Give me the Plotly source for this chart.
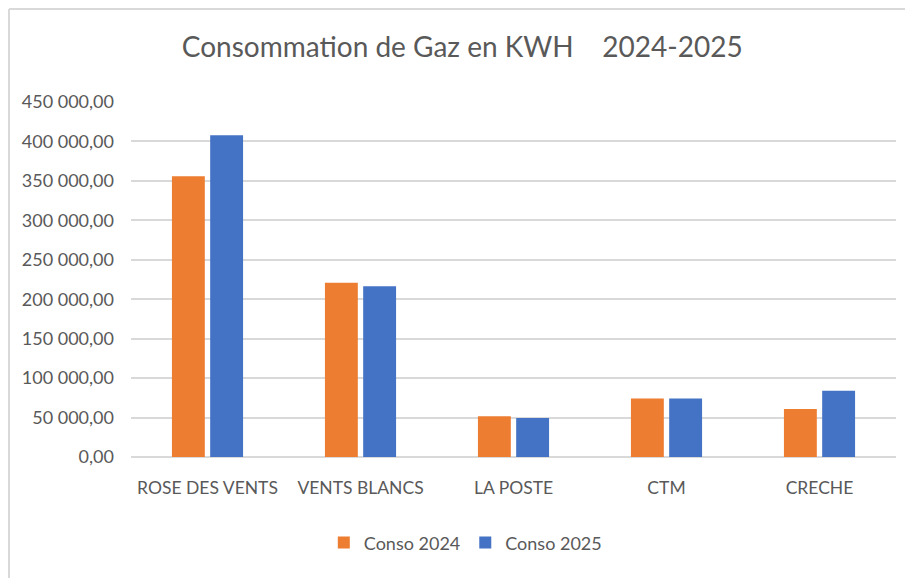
import plotly.graph_objects as go

categories = ["ROSE DES VENTS", "VENTS BLANCS", "LA POSTE", "CTM", "CRECHE"]
conso_2024 = [355800, 221000, 51600, 74000, 60900]
conso_2025 = [408000, 216400, 49500, 74000, 84100]
series_names = ["Conso 2024", "Conso 2025"]
tick_values = [0, 50000, 100000, 150000, 200000, 250000, 300000, 350000, 400000, 450000]

FONT = "Lato, 'Open Sans', sans-serif"
GREY = "#595959"

fig = go.Figure()
fig.add_trace(go.Bar(x=categories, y=conso_2024, name=series_names[0],
                     marker=dict(color="#ED7D31", line=dict(width=0))))
fig.add_trace(go.Bar(x=categories, y=conso_2025, name=series_names[1],
                     marker=dict(color="#4472C4", line=dict(width=0))))

fig.update_layout(
    width=913, height=578,
    margin=dict(l=123, r=25, t=94, b=129),
    paper_bgcolor="white", plot_bgcolor="white",
    separators=", ",
    barmode="group", bargap=0.5, bargroupgap=0.14,
    title=dict(text="Consommation de Gaz en KWH\u00a0\u00a0\u00a0 2024-2025",
               x=0.433, xref="paper", xanchor="center", y=0.9325, yanchor="middle",
               font=dict(family=FONT, size=28, color=GREY)),
    font=dict(family=FONT, size=18, color=GREY),
    xaxis=dict(showline=False, ticks="", tickfont=dict(size=17.5, color=GREY),
               showgrid=False, ticklabelstandoff=18),
    yaxis=dict(range=[0, 450000], tickvals=tick_values, tickformat=",.2f",
               showgrid=True, gridcolor="#d9d9d9", gridwidth=2,
               zeroline=True, zerolinecolor="#d9d9d9", zerolinewidth=2,
               showline=False, ticks="", ticklabelstandoff=16,
               tickfont=dict(size=18, color=GREY)),
    legend=dict(orientation="h", x=0.437, xanchor="center", y=-0.242, yanchor="middle",
                font=dict(size=18, color=GREY), itemwidth=30, traceorder="normal"),
    shapes=[
        dict(type="line", xref="paper", yref="paper", x0=-0.1595, x1=-0.1595,
             y0=-0.4, y1=1.262, line=dict(color="#d9d9d9", width=2)),
        dict(type="line", xref="paper", yref="paper", x0=-0.1595, x1=1.05,
             y0=1.262, y1=1.262, line=dict(color="#d9d9d9", width=2)),
    ],
)

fig.write_html("out.html")
